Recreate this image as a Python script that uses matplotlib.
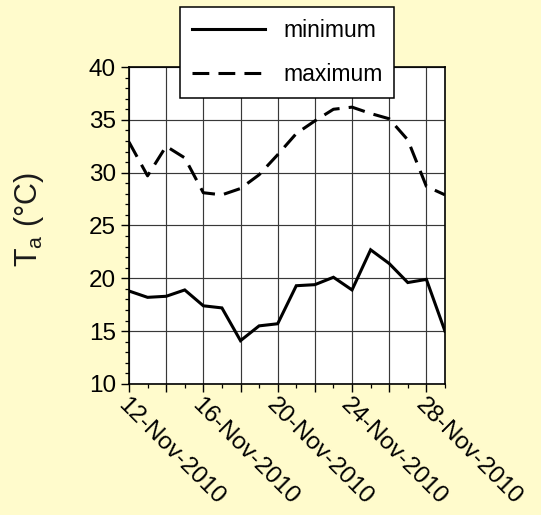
import matplotlib
matplotlib.use("Agg")
import matplotlib.pyplot as plt
from matplotlib.ticker import MultipleLocator, FixedLocator

# Daily air temperature, November 2010
days = [12, 13, 14, 15, 16, 17, 18, 19, 20, 21, 22, 23, 24, 25, 26, 27, 28, 29]
t_min = [18.8, 18.2, 18.3, 18.9, 17.4, 17.2, 14.1, 15.5, 15.7, 19.3, 19.4, 20.1,
         18.9, 22.7, 21.4, 19.6, 19.9, 15.0]
t_max = [32.9, 29.7, 32.5, 31.4, 28.1, 27.9, 28.5, 29.8, 31.7, 33.7, 34.9, 36.0,
         36.2, 35.6, 35.1, 33.1, 28.7, 27.9]
date_ticks = [12, 14, 16, 18, 20, 22, 24, 26, 28]
date_labels = ["12-Nov-2010", "", "16-Nov-2010", "", "20-Nov-2010", "",
               "24-Nov-2010", "", "28-Nov-2010"]
y_ticks = [10, 15, 20, 25, 30, 35, 40]

BG = "#FFFBCC"
plt.rcParams["font.family"] = ["Liberation Sans", "DejaVu Sans"]
plt.rcParams["mathtext.fontset"] = "custom"
plt.rcParams["mathtext.rm"] = "Liberation Sans"
plt.rcParams["mathtext.it"] = "Liberation Sans"

fig = plt.figure(figsize=(5.41, 5.15), dpi=100, facecolor=BG)
ax = fig.add_axes([0.2384, 0.2544, 0.5841, 0.6155])
ax.set_facecolor("white")

ax.plot(days, t_min, color="black", lw=2.2, solid_joinstyle="miter", label="minimum")
ax.plot(days, t_max, color="black", lw=2.2, dashes=(5.5, 3), label="maximum")

ax.set_xlim(12, 29)
ax.set_ylim(10, 40)

ax.xaxis.set_major_locator(FixedLocator(date_ticks))
ax.xaxis.set_minor_locator(MultipleLocator(1))
ax.set_xticklabels(date_labels, rotation=-45, ha="left", va="top",
                   rotation_mode="anchor")
ax.set_yticks(y_ticks)
ax.yaxis.set_minor_locator(MultipleLocator(1))

ax.tick_params(axis="both", which="major", direction="out", length=5.5,
               width=1.0, labelsize=17.5, color="black")
ax.tick_params(axis="y", which="major", pad=4)
ax.tick_params(axis="x", which="major", pad=1.5)
ax.tick_params(axis="both", which="minor", direction="out", length=2.8,
               width=0.9, color="black")

ax.grid(True, which="major", color="#383838", lw=0.85)
ax.set_axisbelow(True)
for s in ax.spines.values():
    s.set_linewidth(1.2)
    s.set_color("black")

ax.set_ylabel(r"$\mathregular{T_a}$ (°C)", fontsize=22, color="#1a1a1a")
ax.yaxis.set_label_coords(-0.262, 0.52)

leg = ax.legend(loc="upper center", bbox_to_anchor=(0.531, 0.986),
                bbox_transform=fig.transFigure, borderaxespad=0,
                fontsize=16.5, handlelength=3.2, handletextpad=0.8,
                labelspacing=0.95, borderpad=0.5, fancybox=False,
                framealpha=1, edgecolor="black")
leg.get_frame().set_linewidth(1.1)
leg.set_zorder(10)

fig.savefig("out.png", dpi=100, facecolor=BG)
